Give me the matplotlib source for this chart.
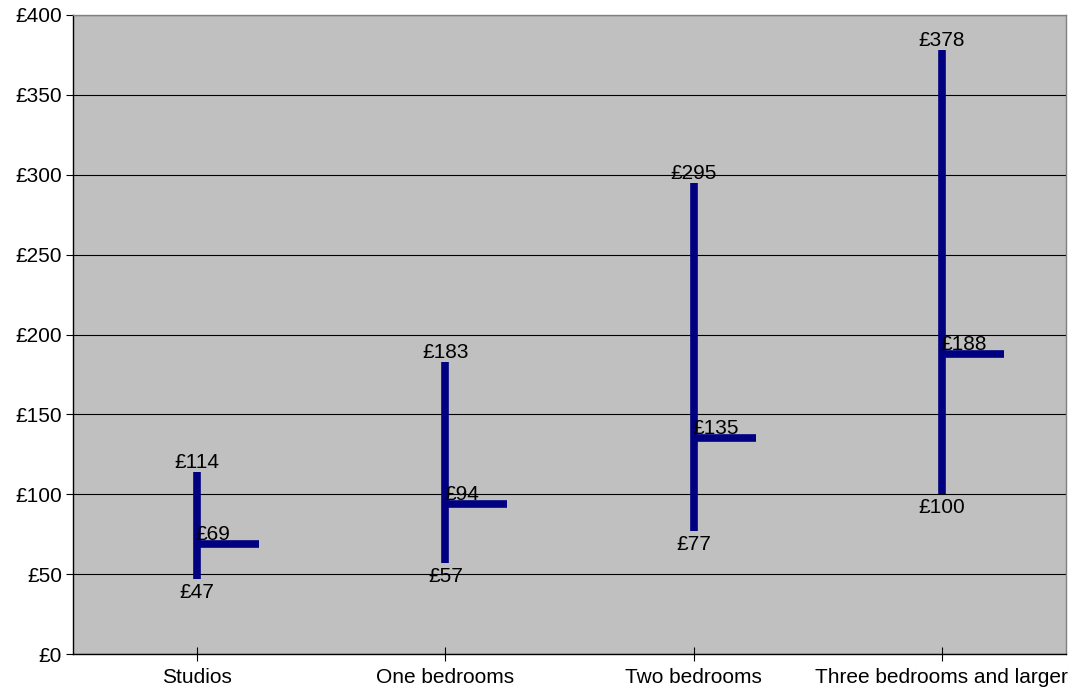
import matplotlib
matplotlib.use("Agg")
import matplotlib.pyplot as plt
import numpy as np

plt.rcParams["font.family"] = ["Liberation Sans", "DejaVu Sans"]

categories = ["Studios", "One bedrooms", "Two bedrooms", "Three bedrooms and larger"]
high = [114, 183, 295, 378]
low = [47, 57, 77, 100]
close = [69, 94, 135, 188]

NAVY = "#000080"
FS = 15

fig = plt.figure(figsize=(10.78, 6.94), dpi=100)
ax = fig.add_axes([73 / 1078, 1 - 654 / 694, 993 / 1078, 639 / 694])
ax.set_facecolor("#C0C0C0")

x = np.arange(len(categories))
ax.set_xlim(-0.5, len(categories) - 0.5)
ax.set_ylim(0, 400)

# high-low bars with close ticks to the right
for xi, h, l, c in zip(x, high, low, close):
    ax.plot([xi, xi], [l, h], color=NAVY, lw=5.5, solid_capstyle="butt", zorder=3)
    ax.plot([xi, xi + 0.25], [c, c], color=NAVY, lw=5.5, solid_capstyle="butt", zorder=3)
    ax.annotate(f"£{h}", (xi, h), xytext=(0, 0), textcoords="offset points",
                ha="center", va="bottom", fontsize=FS)
    ax.annotate(f"£{l}", (xi, l), xytext=(0, -3), textcoords="offset points",
                ha="center", va="top", fontsize=FS)
    ax.annotate(f"£{c}", (xi, c), xytext=(-1, 0), textcoords="offset points",
                ha="left", va="bottom", fontsize=FS, zorder=4)

ax.set_yticks(np.arange(0, 401, 50))
ax.set_yticklabels([f"£{v}" for v in range(0, 401, 50)])
ax.set_xticks(x)
ax.set_xticklabels(categories)
ax.yaxis.grid(True, color="black", lw=0.8)
ax.set_axisbelow(True)

ax.tick_params(axis="y", direction="out", length=5, labelsize=FS, pad=3)
ax.tick_params(axis="x", direction="inout", length=10, labelsize=FS, pad=5)

for side in ("left", "bottom"):
    ax.spines[side].set_color("black")
    ax.spines[side].set_linewidth(1.0)
for side in ("top", "right"):
    ax.spines[side].set_color("#808080")
    ax.spines[side].set_linewidth(1.0)

fig.savefig("out.png", dpi=100)
